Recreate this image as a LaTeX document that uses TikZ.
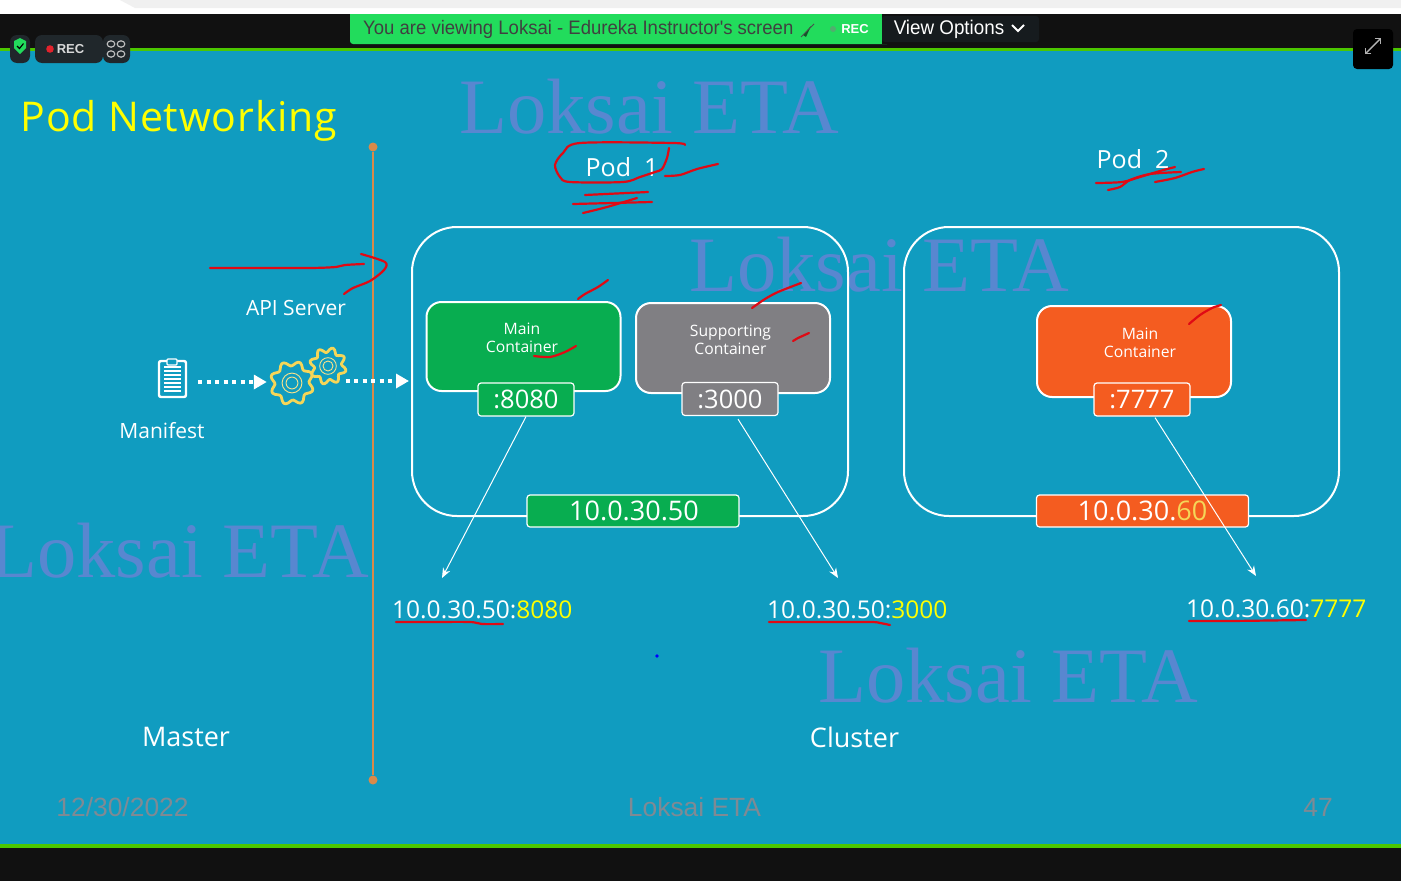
\documentclass[tikz,border=0pt]{standalone}
\usepackage{fontspec}
\setmainfont{Open Sans}
\newfontfamily\markfont{Liberation Serif}
\newfontfamily\footfont{Liberation Sans}
\newfontfamily\zoomfont[FakeStretch=0.95]{Liberation Sans}
\usepackage{color}
\definecolor{slidebg}{HTML}{109CC0}
\definecolor{barblack}{HTML}{111111}
\definecolor{bargreen}{HTML}{4CC700}
\definecolor{viewgreen}{HTML}{22DC5C}
\definecolor{watermark}{HTML}{5887D0}
\definecolor{footgrey}{HTML}{7F8A94}
\definecolor{axisorange}{HTML}{D98A4A}
\definecolor{boxgreen}{HTML}{08AD50}
\definecolor{boxgrey}{HTML}{807F83}
\definecolor{boxorange}{HTML}{F45C20}
\definecolor{titleyellow}{HTML}{FFFF00}
\definecolor{gearyellow}{HTML}{F5D658}
\definecolor{inkred}{HTML}{E00A14}
\definecolor{darkchip}{HTML}{20272B}
\usetikzlibrary{arrows.meta}
\newcommand{\fs}[1]{\fontsize{#1}{#1}\selectfont}
\newcommand{\gearat}[3]{%
  \draw[gearyellow, line width=2.8pt, line join=round]
    plot[smooth cycle, samples=64, domain=0:354.375, variable=\t]
      ({#1+(#3-2.5+2.5*sin(8*\t+#1))*cos(\t)},{#2+(#3-2.5+2.5*sin(8*\t+#1))*sin(\t)});
  \draw[gearyellow!70!white, line width=0.9pt] (#1,#2) circle ({0.45*#3});
  \draw[gearyellow!70!white, line width=0.9pt] (#1,#2) circle ({0.27*#3});
}
\tikzset{
  podbox/.style={draw=white, line width=2pt, rounded corners=45pt},
  ctrbox/.style={draw=white, line width=2pt, rounded corners=15pt, minimum width=194pt, inner sep=0pt},
  ctrtext/.style={text=white, align=center, font=\fs{15.7}, inner sep=0pt},
  portbox/.style={draw=white, line width=1.2pt, rounded corners=3pt, minimum width=96pt, minimum height=33pt, text=white, font=\fs{25.5}, inner sep=0pt},
  ipbox/.style={draw=white, line width=1.2pt, rounded corners=3pt, minimum width=212pt, minimum height=32pt, text=white, font=\fs{27}, inner sep=0pt},
  lbl/.style={text=white, font=\fs{21}, inner sep=0pt},
  addr/.style={text=white, font=\fs{24.5}, inner sep=0pt},
  wmark/.style={text=watermark, font=\markfont\fs{78.5}, inner sep=0pt},
  foot/.style={text=footgrey, font=\footfont\fs{26.4}, inner sep=0pt},
  ink/.style={inkred, line width=2.2pt, line cap=round, line join=round},
  wire/.style={white, line width=1pt, -{Stealth[length=10pt,width=8pt]}},
  dotline/.style={white, line width=4pt, dash pattern=on 4pt off 4.5pt, -{Triangle[length=13pt,width=14pt]}},
  chip/.style={fill=darkchip, rounded corners=7pt}
}
\begin{document}
\begin{tikzpicture}[x=1pt,y=-1pt]
  \useasboundingbox (0,0) rectangle (1401,881);
  % screen frame
  \fill[white] (0,0) rectangle (1401,14);
  \fill[black!6] (120,0) -- (1401,0) -- (1401,8) -- (135,8) -- cycle;
  \fill[barblack] (0,14) rectangle (1401,50);
  \fill[slidebg] (0,50) rectangle (1401,845);
  \fill[bargreen] (0,48) rectangle (1401,51);
  \fill[bargreen] (0,844) rectangle (1401,847.5);
  \fill[barblack] (0,847.5) rectangle (1401,881);
  % share bar
  \fill[viewgreen, rounded corners=3pt] (350,14) rectangle (890,44);
  \fill[viewgreen] (350,14) rectangle (882,30);
  \fill[barblack] (882,14) rectangle (1401,44);
  \fill[darkchip!70!black, rounded corners=3pt] (882,16) rectangle (1039,42);
  \fill[viewgreen] (870,14) rectangle (882,44);
  \node[anchor=west, inner sep=0pt, text=black!75, font=\zoomfont\fs{19.5}] (viewing) at (363,29) {You are viewing Loksai - Edureka Instructor's screen};
  \fill[black!60!viewgreen] (811,26) -- (806,37) -- (803,35) -- cycle;
  \draw[black!70, line width=0.8pt] (814,24) -- (801,37);
  \fill[viewgreen!50!gray] (833,29) circle (3);
  \node[inner sep=0pt, text=white, font=\footfont\bfseries\fs{13}] (recgreen) at (855,29) {REC};
  \node[inner sep=0pt, text=white, font=\zoomfont\fs{19.8}] (viewopts) at (949,29) {View Options};
  \draw[white, line width=2pt] (1012,25) -- (1018,31) -- (1024,25);
  % left chips
  \fill[chip] (10,35) rectangle (30,63);
  \fill[viewgreen] (14,41) -- (20,38) -- (26,41) -- (26,48) -- (20,54) -- (14,48) -- cycle;
  \draw[black, line width=1.1pt] (17,46) -- (19.5,48.5) -- (23.5,43.5);
  \fill[chip] (35,35) rectangle (103,63);
  \fill[inkred!90!white] (50,49) circle (3.8);
  \node[inner sep=0pt, text=black!15, font=\footfont\bfseries\fs{13}] (recchip) at (70.5,49.5) {REC};
  \fill[chip] (103,35) rectangle (130,63);
  \foreach \x in {111,121}
    \foreach \y in {44,54}
      \draw[black!25, line width=1.2pt] (\x,\y) ellipse (3.8 and 3.2);
  % expand button
  \fill[black, rounded corners=4pt] (1353,29) rectangle (1393,69);
  \draw[black!30, line width=1.4pt, {Straight Barb[length=4pt]}-{Straight Barb[length=4pt]}] (1365,54) -- (1381,38);
  % watermarks
  \node[wmark] (wmarka) at (649,107) {Loksai ETA};
  \node[wmark] (wmarkb) at (879,265) {Loksai ETA};
  \node[wmark] (wmarkc) at (179,551) {Loksai ETA};
  \node[wmark] (wmarkd) at (1008,676) {Loksai ETA};
  % title and labels
  \node[text=titleyellow, font=\fs{41}\addfontfeatures{LetterSpace=2}, inner sep=0pt, anchor=west] (title) at (20.5,121) {Pod Networking};
  \node[lbl, font=\fs{25}] (podone) at (622,167) {Pod\ \ 1};
  \node[lbl, font=\fs{25}] (podtwo) at (1133,159) {Pod\ \ 2};
  \node[lbl] (apiserver) at (296,308) {API Server};
  \node[lbl] (manifest) at (162,431) {Manifest};
  \node[lbl, font=\fs{27}] (master) at (186,737) {Master};
  \node[lbl, font=\fs{27}] (cluster) at (854.5,737) {Cluster};
  % master / cluster divider
  \node[circle, fill=axisorange, inner sep=0pt, minimum size=9pt] (axistop) at (373,147) {};
  \node[circle, fill=axisorange, inner sep=0pt, minimum size=9pt] (axisbot) at (373,780) {};
  \draw[axisorange, line width=2.6pt] (axistop) -- (axisbot);
  % pods
  \draw[podbox] (412,227) rectangle (848,516);
  \draw[podbox] (904,227) rectangle (1339,516);
  \node[ctrbox, fill=boxgreen, minimum height=89pt] (mainone) at (523.5,346.5) {};
  \node[ctrbox, fill=boxgrey, minimum height=90pt] (support) at (733,348) {};
  \node[ctrbox, fill=boxorange, minimum height=91pt] (maintwo) at (1134,351.5) {};
  \node[ctrtext] (mainonetxt) at (522,337.5) {Main\\[2pt]Container};
  \node[ctrtext] (supporttxt) at (730.5,339.5) {Supporting\\[2pt]Container};
  \node[ctrtext] (maintwotxt) at (1140,342.5) {Main\\[2pt]Container};
  \node[portbox, fill=boxgreen] (portone) at (526,399.5) {:8080};
  \node[portbox, fill=boxgrey] (portthree) at (730,399) {:3000};
  \node[portbox, fill=boxorange] (portseven) at (1142,399.5) {:7777};
  \node[ipbox, fill=boxgreen] (ipone) at (633,511) {\hspace{2pt}10.0.30.50};
  \node[ipbox, fill=boxorange] (iptwo) at (1142.5,511) {10.0.30.\textcolor{gearyellow}{60}};
  % addresses
  \node[addr, anchor=west] (addrone) at (392,609.5) {10.0.30.50:\textcolor{titleyellow}{8080}};
  \node[addr, anchor=west] (addrthree) at (767,609.5) {10.0.30.50:\textcolor{titleyellow}{3000}};
  \node[addr, anchor=west] (addrseven) at (1186,608.5) {10.0.30.60:\textcolor{titleyellow}{7777}};
  \coordinate (tipone) at (442,578);
  \coordinate (tipthree) at (838,578);
  \coordinate (tipseven) at (1256,576);
  \draw[wire] (portone.south) -- (tipone);
  \draw[wire] ([xshift=8pt,yshift=-3pt]portthree.south) -- (tipthree);
  \draw[wire] ([xshift=13pt,yshift=-1pt]portseven.south) -- (tipseven);
  % manifest icon and gears
  \node[draw=white, line width=2.4pt, rounded corners=2pt, fill=slidebg, minimum width=27pt, minimum height=36pt, inner sep=0pt] (clipboard) at (172.5,379) {};
  \draw[white, line width=1.4pt, fill=slidebg, rounded corners=1pt] (167,359) rectangle (177,365);
  \foreach \y in {367,371,375,379,383,387,391}
    \draw[white, line width=1.3pt] (164,\y) -- (181,\y);
  \gearat{292}{383}{22}
  \gearat{328}{366}{18.5}
  \node[minimum size=44pt, inner sep=0pt] (gearleft) at (292,383) {};
  \node[minimum size=37pt, inner sep=0pt] (gearright) at (328,366) {};
  \coordinate (flowend) at (409,381);
  \draw[dotline] ([xshift=11pt,yshift=-3pt]clipboard.east) -- ([xshift=-3pt,yshift=1pt]gearleft.west);
  \draw[dotline] ([xshift=-1pt,yshift=-15pt]gearright.east) -- (flowend);
  % footer
  \node[foot] (date) at (122.5,807) {12/30/2022};
  \node[foot] (footname) at (694.5,807) {Loksai ETA};
  \node[foot] (pagenum) at (1318,807) {47};
  % small blue dot
  \fill[blue] (657,656) circle (1.8);
  % red ink
  \draw[ink] plot[smooth] coordinates {(210,268) (250,268) (310,268) (336,267) (345,265) (364,264)};
  \draw[ink] plot[smooth] coordinates {(361,254) (385,262) (384,270) (370,281) (353,288) (344,294)};
  \draw[ink] plot[smooth] coordinates {(685,145) (673,143) (580,143) (563,153) (555,165) (560,177) (570,182) (623,182) (640,177) (655,172) (662,169) (667,158) (669,148)};
  \draw[ink] plot[smooth] coordinates {(665,176) (680,175) (697,169) (718,164)};
  \draw[ink] (585,195) -- (648,192);
  \draw[ink] (573,204) -- (652,202);
  \draw[ink] plot[smooth] coordinates {(583,213) (607,207) (637,198)};
  \draw[ink] plot[smooth] coordinates {(1096,183) (1122,182) (1140,177) (1160,171) (1175,167)};
  \draw[ink] plot[smooth] coordinates {(1108,190) (1120,187) (1130,180) (1150,174) (1181,172)};
  \draw[ink] plot[smooth] coordinates {(1155,182) (1175,178) (1192,172) (1204,169)};
  \draw[ink] plot[smooth] coordinates {(578,299) (585,294) (598,287) (608,280)};
  \draw[ink] plot[smooth] coordinates {(752,308) (765,299) (778,292) (801,283)};
  \draw[ink] (793,341) -- (798,338) -- (809,333);
  \draw[ink] plot[smooth] coordinates {(534,356) (550,357) (565,352) (576,346)};
  \draw[ink] plot[smooth] coordinates {(1189,324) (1200,315) (1212,308) (1221,305)};
  \draw[ink] plot[smooth] coordinates {(396,622) (430,622) (470,622) (482,624) (503,624)};
  \draw[ink] plot[smooth] coordinates {(769,622) (810,622) (870,622) (880,623) (890,625)};
  \draw[ink] plot[smooth] coordinates {(1189,621) (1230,621) (1306,620)};
\end{tikzpicture}
\end{document}
